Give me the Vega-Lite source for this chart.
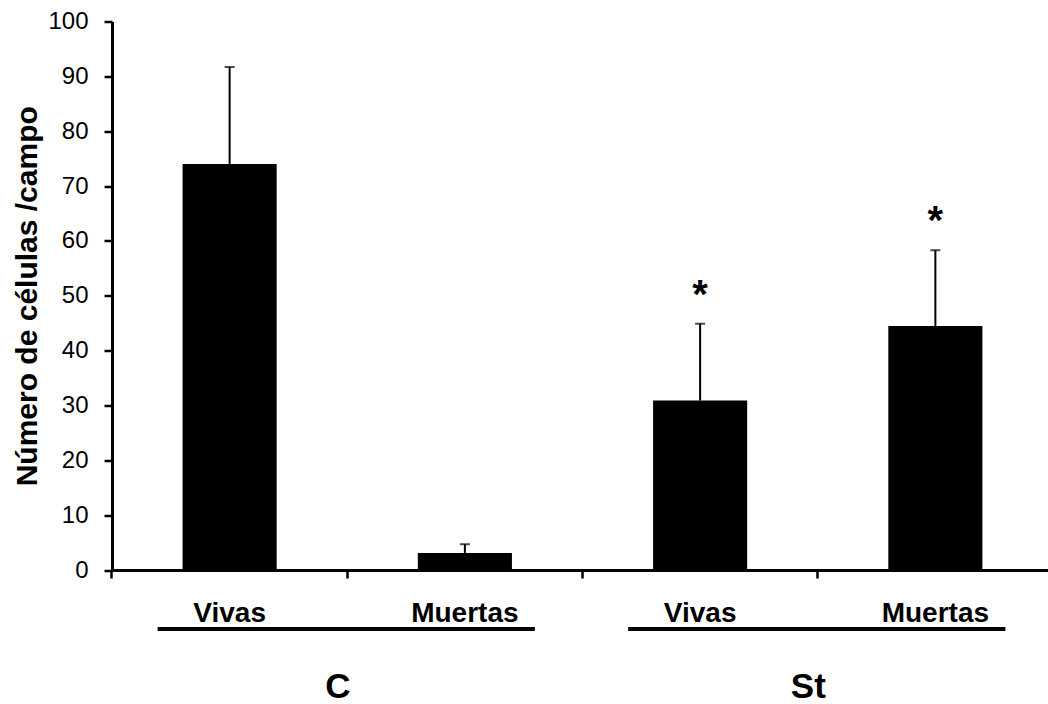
{
  "$schema": "https://vega.github.io/schema/vega-lite/v6.json",
  "width": 941,
  "height": 548.5,
  "autosize": "none",
  "padding": {"left": 112, "top": 21.5, "right": 0, "bottom": 134},
  "background": "white",
  "config": {
    "view": {"stroke": null},
    "font": "Liberation Sans",
    "axisY": {
      "domainColor": "black", "domainWidth": 3, "tickColor": "black", "tickWidth": 2.5, "tickSize": 8,
      "labelFontSize": 24, "labelColor": "black", "labelPadding": 16, "labelFont": "Liberation Sans",
      "titleFontSize": 30, "titleFontWeight": "bold", "titleColor": "black", "titlePadding": 5, "titleFont": "Liberation Sans",
      "grid": false
    },
    "axisX": {
      "domainColor": "black", "domainWidth": 3, "tickColor": "black", "tickWidth": 2.5, "tickSize": 8,
      "labelFontSize": 28, "labelFontWeight": "bold", "labelColor": "black", "labelPadding": 21, "labelAngle": 0,
      "labelFont": "Liberation Sans", "grid": false
    }
  },
  "datasets": {
    "bars": [
      {"categoria": "C Vivas", "grupo": "C", "media": 74.0, "sup": 91.7, "sig": ""},
      {"categoria": "C Muertas", "grupo": "C", "media": 3.1, "sup": 4.7, "sig": ""},
      {"categoria": "St Vivas", "grupo": "St", "media": 30.9, "sup": 44.9, "sig": "*"},
      {"categoria": "St Muertas", "grupo": "St", "media": 44.5, "sup": 58.3, "sig": "*"}
    ],
    "grupos": [
      {"grupo": "C", "desde": "C Vivas", "hasta": "C Muertas"},
      {"grupo": "St", "desde": "St Vivas", "hasta": "St Muertas"}
    ]
  },
  "layer": [
    {
      "data": {"name": "bars"},
      "mark": {"type": "bar", "color": "black"},
      "encoding": {
        "x": {
          "field": "categoria", "type": "nominal",
          "scale": {"domain": ["C Vivas", "C Muertas", "St Vivas", "St Muertas"], "paddingInner": 0.6, "paddingOuter": 0.3},
          "axis": {"title": null, "labelExpr": "split(datum.label, ' ')[1]", "bandPosition": -0.75}
        },
        "y": {
          "field": "media", "type": "quantitative",
          "scale": {"domain": [0, 100], "nice": false},
          "axis": {"title": "Número de células /campo", "values": [0, 10, 20, 30, 40, 50, 60, 70, 80, 90, 100]}
        }
      }
    },
    {
      "data": {"name": "bars"},
      "mark": {"type": "rule", "color": "black", "strokeWidth": 2},
      "encoding": {
        "x": {"field": "categoria", "type": "nominal"},
        "y": {"field": "media", "type": "quantitative"},
        "y2": {"field": "sup"}
      }
    },
    {
      "data": {"name": "bars"},
      "mark": {"type": "tick", "color": "black", "size": 10, "thickness": 2},
      "encoding": {
        "x": {"field": "categoria", "type": "nominal"},
        "y": {"field": "sup", "type": "quantitative"}
      }
    },
    {
      "data": {"name": "bars"},
      "mark": {"type": "text", "color": "black", "fontSize": 40, "fontWeight": "bold", "baseline": "alphabetic", "dy": -16, "font": "Liberation Sans"},
      "encoding": {
        "x": {"field": "categoria", "type": "nominal"},
        "y": {"field": "sup", "type": "quantitative"},
        "text": {"field": "sig"}
      }
    },
    {
      "data": {"name": "grupos"},
      "mark": {"type": "rule", "color": "black", "strokeWidth": 4, "xOffset": -72, "x2Offset": 70, "yOffset": 59},
      "encoding": {
        "x": {"field": "desde", "type": "nominal"},
        "x2": {"field": "hasta"},
        "y": {"datum": 0, "type": "quantitative"}
      }
    },
    {
      "data": {"name": "grupos"},
      "mark": {"type": "text", "color": "black", "fontSize": 35, "fontWeight": "bold", "baseline": "middle", "dy": 117, "font": "Liberation Sans"},
      "encoding": {
        "x": {"field": "desde", "type": "nominal", "bandPosition": 1.65},
        "y": {"datum": 0, "type": "quantitative"},
        "text": {"field": "grupo"}
      }
    }
  ]
}
